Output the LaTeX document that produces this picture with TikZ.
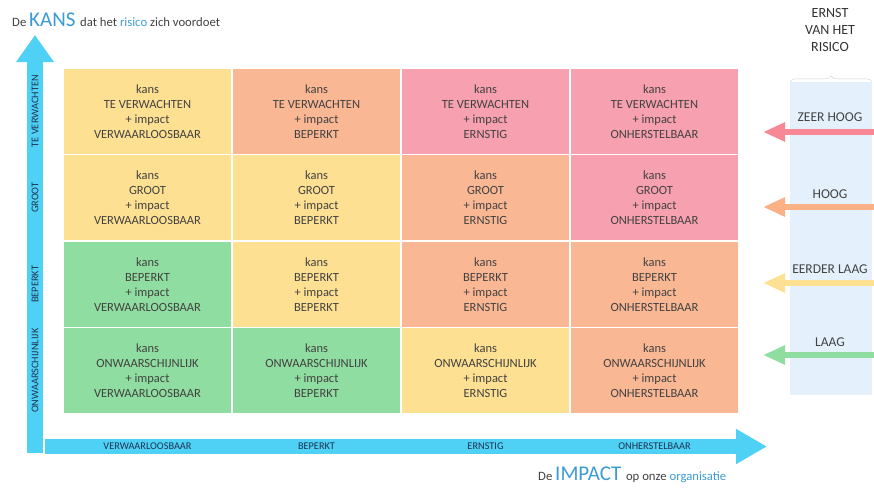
\documentclass[tikz,border=0pt]{standalone}
\usepackage{fontspec}
\setmainfont{Carlito}
\usetikzlibrary{arrows.meta,decorations.pathreplacing}

\definecolor{geel}{RGB}{254,224,146}
\definecolor{zalm}{RGB}{250,183,148}
\definecolor{roze}{RGB}{247,160,175}
\definecolor{groen}{RGB}{143,221,160}
\definecolor{asblauw}{RGB}{79,208,245}
\definecolor{kansblauw}{RGB}{59,155,213}
\definecolor{paneel}{RGB}{228,241,252}
\definecolor{donker}{RGB}{66,66,66}
\definecolor{marine}{RGB}{30,52,82}

\begin{document}
\begin{tikzpicture}[x=1pt, y=-1pt,
		cel/.style={draw=white, line width=1.6pt, minimum width=169pt, minimum height=86.5pt, inner sep=0pt, align=center, text=donker, font=\fontsize{12.5}{15}\selectfont},
		as/.style={draw=asblauw, line width=#1, line cap=butt},
		aslabel/.style={text=marine, font=\fontsize{10.3}{12}\selectfont, inner sep=0pt},
		ernst/.style={line width=6pt, -{Triangle[width=18pt,length=22pt]}},
		niveau/.style={text=donker, font=\fontsize{13.5}{16}\selectfont, inner sep=0pt}]
	\useasboundingbox (0,0) rectangle (874,491);

	% titels
	\node[anchor=base west, inner sep=0pt, text=donker] (kanstitel) at (12,26) {\fontsize{12.7}{15}\selectfont De \fontsize{21}{24}\selectfont\textcolor{kansblauw}{KANS} \fontsize{12.7}{15}\selectfont dat het \textcolor{kansblauw}{risico} zich voordoet};
	\node[anchor=base west, inner sep=0pt, text=donker] (impacttitel) at (538,480) {\fontsize{12.7}{15}\selectfont De \fontsize{21}{24}\selectfont\textcolor{kansblauw}{IMPACT} \fontsize{12.7}{15}\selectfont op onze \textcolor{kansblauw}{organisatie}};

	% assen
	\coordinate (yvoet) at (35,453);
	\coordinate (ytop) at (35,35);
	\coordinate (xvoet) at (45,446.5);
	\coordinate (xtop) at (767,446.5);
	\draw[as=16pt, -{Triangle[width=36pt,length=27pt]}] (yvoet) -- (ytop);
	\draw[as=15pt, -{Triangle[width=33pt,length=31pt]}] (xvoet) -- (xtop);

	\node[aslabel, rotate=90] (yT) at (35,111.25) {TE VERWACHTEN};
	\node[aslabel, rotate=90] (yG) at (35,197.75) {GROOT};
	\node[aslabel, rotate=90] (yB) at (35,284.25) {BEPERKT};
	\node[aslabel, rotate=90] (yO) at (35,370.75) {ONWAARSCHIJNLIJK};
	\node[aslabel] (xV) at (147.5,446.5) {VERWAARLOOSBAAR};
	\node[aslabel] (xB) at (316.5,446.5) {BEPERKT};
	\node[aslabel] (xE) at (485.5,446.5) {ERNSTIG};
	\node[aslabel] (xO) at (654.5,446.5) {ONHERSTELBAAR};

	% matrix
	\node[cel, fill=geel] (T1) at (147.5,111.25) {kans\\TE VERWACHTEN\\+ impact\\VERWAARLOOSBAAR};
	\node[cel, fill=zalm] (T2) at (316.5,111.25) {kans\\TE VERWACHTEN\\+ impact\\BEPERKT};
	\node[cel, fill=roze] (T3) at (485.5,111.25) {kans\\TE VERWACHTEN\\+ impact\\ERNSTIG};
	\node[cel, fill=roze] (T4) at (654.5,111.25) {kans\\TE VERWACHTEN\\+ impact\\ONHERSTELBAAR};

	\node[cel, fill=geel] (G1) at (147.5,197.75) {kans\\GROOT\\+ impact\\VERWAARLOOSBAAR};
	\node[cel, fill=geel] (G2) at (316.5,197.75) {kans\\GROOT\\+ impact\\BEPERKT};
	\node[cel, fill=zalm] (G3) at (485.5,197.75) {kans\\GROOT\\+ impact\\ERNSTIG};
	\node[cel, fill=roze] (G4) at (654.5,197.75) {kans\\GROOT\\+ impact\\ONHERSTELBAAR};

	\node[cel, fill=groen] (B1) at (147.5,284.25) {kans\\BEPERKT\\+ impact\\VERWAARLOOSBAAR};
	\node[cel, fill=geel] (B2) at (316.5,284.25) {kans\\BEPERKT\\+ impact\\BEPERKT};
	\node[cel, fill=zalm] (B3) at (485.5,284.25) {kans\\BEPERKT\\+ impact\\ERNSTIG};
	\node[cel, fill=zalm] (B4) at (654.5,284.25) {kans\\BEPERKT\\+ impact\\ONHERSTELBAAR};

	\node[cel, fill=groen] (O1) at (147.5,370.75) {kans\\ONWAARSCHIJNLIJK\\+ impact\\VERWAARLOOSBAAR};
	\node[cel, fill=groen] (O2) at (316.5,370.75) {kans\\ONWAARSCHIJNLIJK\\+ impact\\BEPERKT};
	\node[cel, fill=geel] (O3) at (485.5,370.75) {kans\\ONWAARSCHIJNLIJK\\+ impact\\ERNSTIG};
	\node[cel, fill=zalm] (O4) at (654.5,370.75) {kans\\ONWAARSCHIJNLIJK\\+ impact\\ONHERSTELBAAR};

	% ernst van het risico
	\node[fill=paneel, minimum width=82pt, minimum height=313pt, inner sep=0pt] (P) at (831,238.5) {};
	\draw[paneel!60!gray!80, decorate, decoration={brace, amplitude=6pt}] (P.north west) -- (P.north east);
	\node[align=center, text=black!80, inner sep=0pt, font=\fontsize{14}{17}\selectfont] (ernsttitel) at (830,30) {ERNST\\VAN HET\\RISICO};

	\node[niveau] (zh) at (830,117) {ZEER HOOG};
	\node[niveau] (h) at (830,194) {HOOG};
	\node[niveau] (el) at (830,269) {EERDER LAAG};
	\node[niveau] (l) at (830,342) {LAAG};
	\coordinate (zhR) at (874,132);
	\coordinate (zhL) at (763,132);
	\coordinate (hR) at (874,207);
	\coordinate (hL) at (763,207);
	\coordinate (elR) at (874,283);
	\coordinate (elL) at (763,283);
	\coordinate (lR) at (874,355);
	\coordinate (lL) at (763,355);
	\draw[ernst, draw=roze!85!red, fill=roze!85!red] (zhR) -- (zhL);
	\draw[ernst, draw=zalm!90!orange, fill=zalm!90!orange] (hR) -- (hL);
	\draw[ernst, draw=geel, fill=geel] (elR) -- (elL);
	\draw[ernst, draw=groen, fill=groen] (lR) -- (lL);
\end{tikzpicture}
\end{document}
